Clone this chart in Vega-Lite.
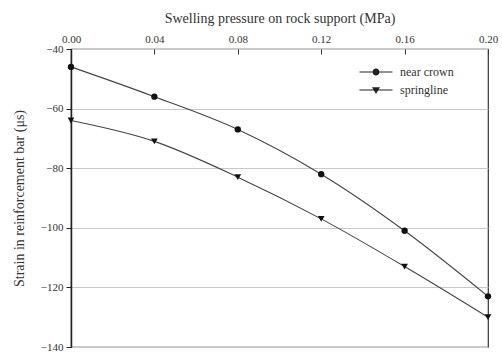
{
  "$schema": "https://vega.github.io/schema/vega-lite/v6.json",
  "width": 417,
  "height": 298,
  "autosize": "none",
  "padding": {"left": 71, "top": 49, "right": 14, "bottom": 7},
  "background": "white",
  "config": {
    "view": {"stroke": "#333", "strokeWidth": 1.2},
    "font": "Times New Roman, Liberation Serif, serif",
    "axis": {"labelFont": "Times New Roman, Liberation Serif, serif", "titleFont": "Times New Roman, Liberation Serif, serif", "labelColor": "#333", "titleColor": "#333", "titleFontWeight": "normal", "labelFontSize": 11, "titleFontSize": 14},
    "legend": {"labelFont": "Times New Roman, Liberation Serif, serif"}
  },
  "data": {"values": [
    {"p": 0.00, "strain": -46, "series": "near crown"},
    {"p": 0.04, "strain": -56, "series": "near crown"},
    {"p": 0.08, "strain": -67, "series": "near crown"},
    {"p": 0.12, "strain": -82, "series": "near crown"},
    {"p": 0.16, "strain": -101, "series": "near crown"},
    {"p": 0.20, "strain": -123, "series": "near crown"},
    {"p": 0.00, "strain": -64, "series": "springline"},
    {"p": 0.04, "strain": -71, "series": "springline"},
    {"p": 0.08, "strain": -83, "series": "springline"},
    {"p": 0.12, "strain": -97, "series": "springline"},
    {"p": 0.16, "strain": -113, "series": "springline"},
    {"p": 0.20, "strain": -130, "series": "springline"}
  ]},
  "encoding": {
    "x": {"field": "p", "type": "quantitative", "scale": {"domain": [0, 0.2], "nice": false},
      "axis": {"orient": "top", "title": "Swelling pressure on rock support (MPa)", "values": [0, 0.04, 0.08, 0.12, 0.16, 0.2], "format": ".2f", "grid": false, "domain": false, "tickSize": -5, "tickColor": "#333", "labelPadding": 10, "titlePadding": 8, "labelFlush": false}},
    "y": {"field": "strain", "type": "quantitative", "scale": {"domain": [-140, -40], "nice": false},
      "axis": {"title": "Strain in reinforcement bar (μs)", "values": [-40, -60, -80, -100, -120, -140], "format": "d", "grid": true, "gridColor": "#c8c8c8", "domainColor": "#222", "domainWidth": 1.5, "tickColor": "#222", "tickSize": 5, "labelPadding": 3, "titlePadding": 14}}
  },
  "layer": [
    {
      "mark": {"type": "line", "interpolate": "monotone", "color": "#444", "strokeWidth": 1.1},
      "encoding": {"detail": {"field": "series"}}
    },
    {
      "mark": {"type": "point", "filled": true, "color": "#111", "opacity": 1},
      "encoding": {
        "shape": {"condition": {"test": "datum.series === 'near crown'", "value": "circle"}, "value": "triangle-down"},
        "size": {"condition": {"test": "datum.series === 'near crown'", "value": 40}, "value": 45}
      }
    },
    {
      "mark": {"type": "point", "filled": true, "fill": "#222", "opacity": 1, "size": 0},
      "encoding": {
        "shape": {"field": "series", "type": "nominal",
          "scale": {"domain": ["near crown", "springline"], "range": ["M-3.3,-0.11H3.3V0.11H-3.3ZM-0.7,0A0.7,0.7 0 1,1 0.7,0A0.7,0.7 0 1,1 -0.7,0Z", "M-3.3,-0.11H3.3V0.11H-3.3ZM-0.8,-0.55L0.8,-0.55L0,0.8Z"]},
          "legend": {"title": null, "orient": "none", "legendX": 299, "legendY": 17, "padding": 0,
            "symbolSize": 100, "labelOffset": 18, "labelFontSize": 12, "labelColor": "#333", "rowPadding": 5,
            "symbolFillColor": "#222", "symbolOpacity": 1}
        }
      }
    }
  ]
}
